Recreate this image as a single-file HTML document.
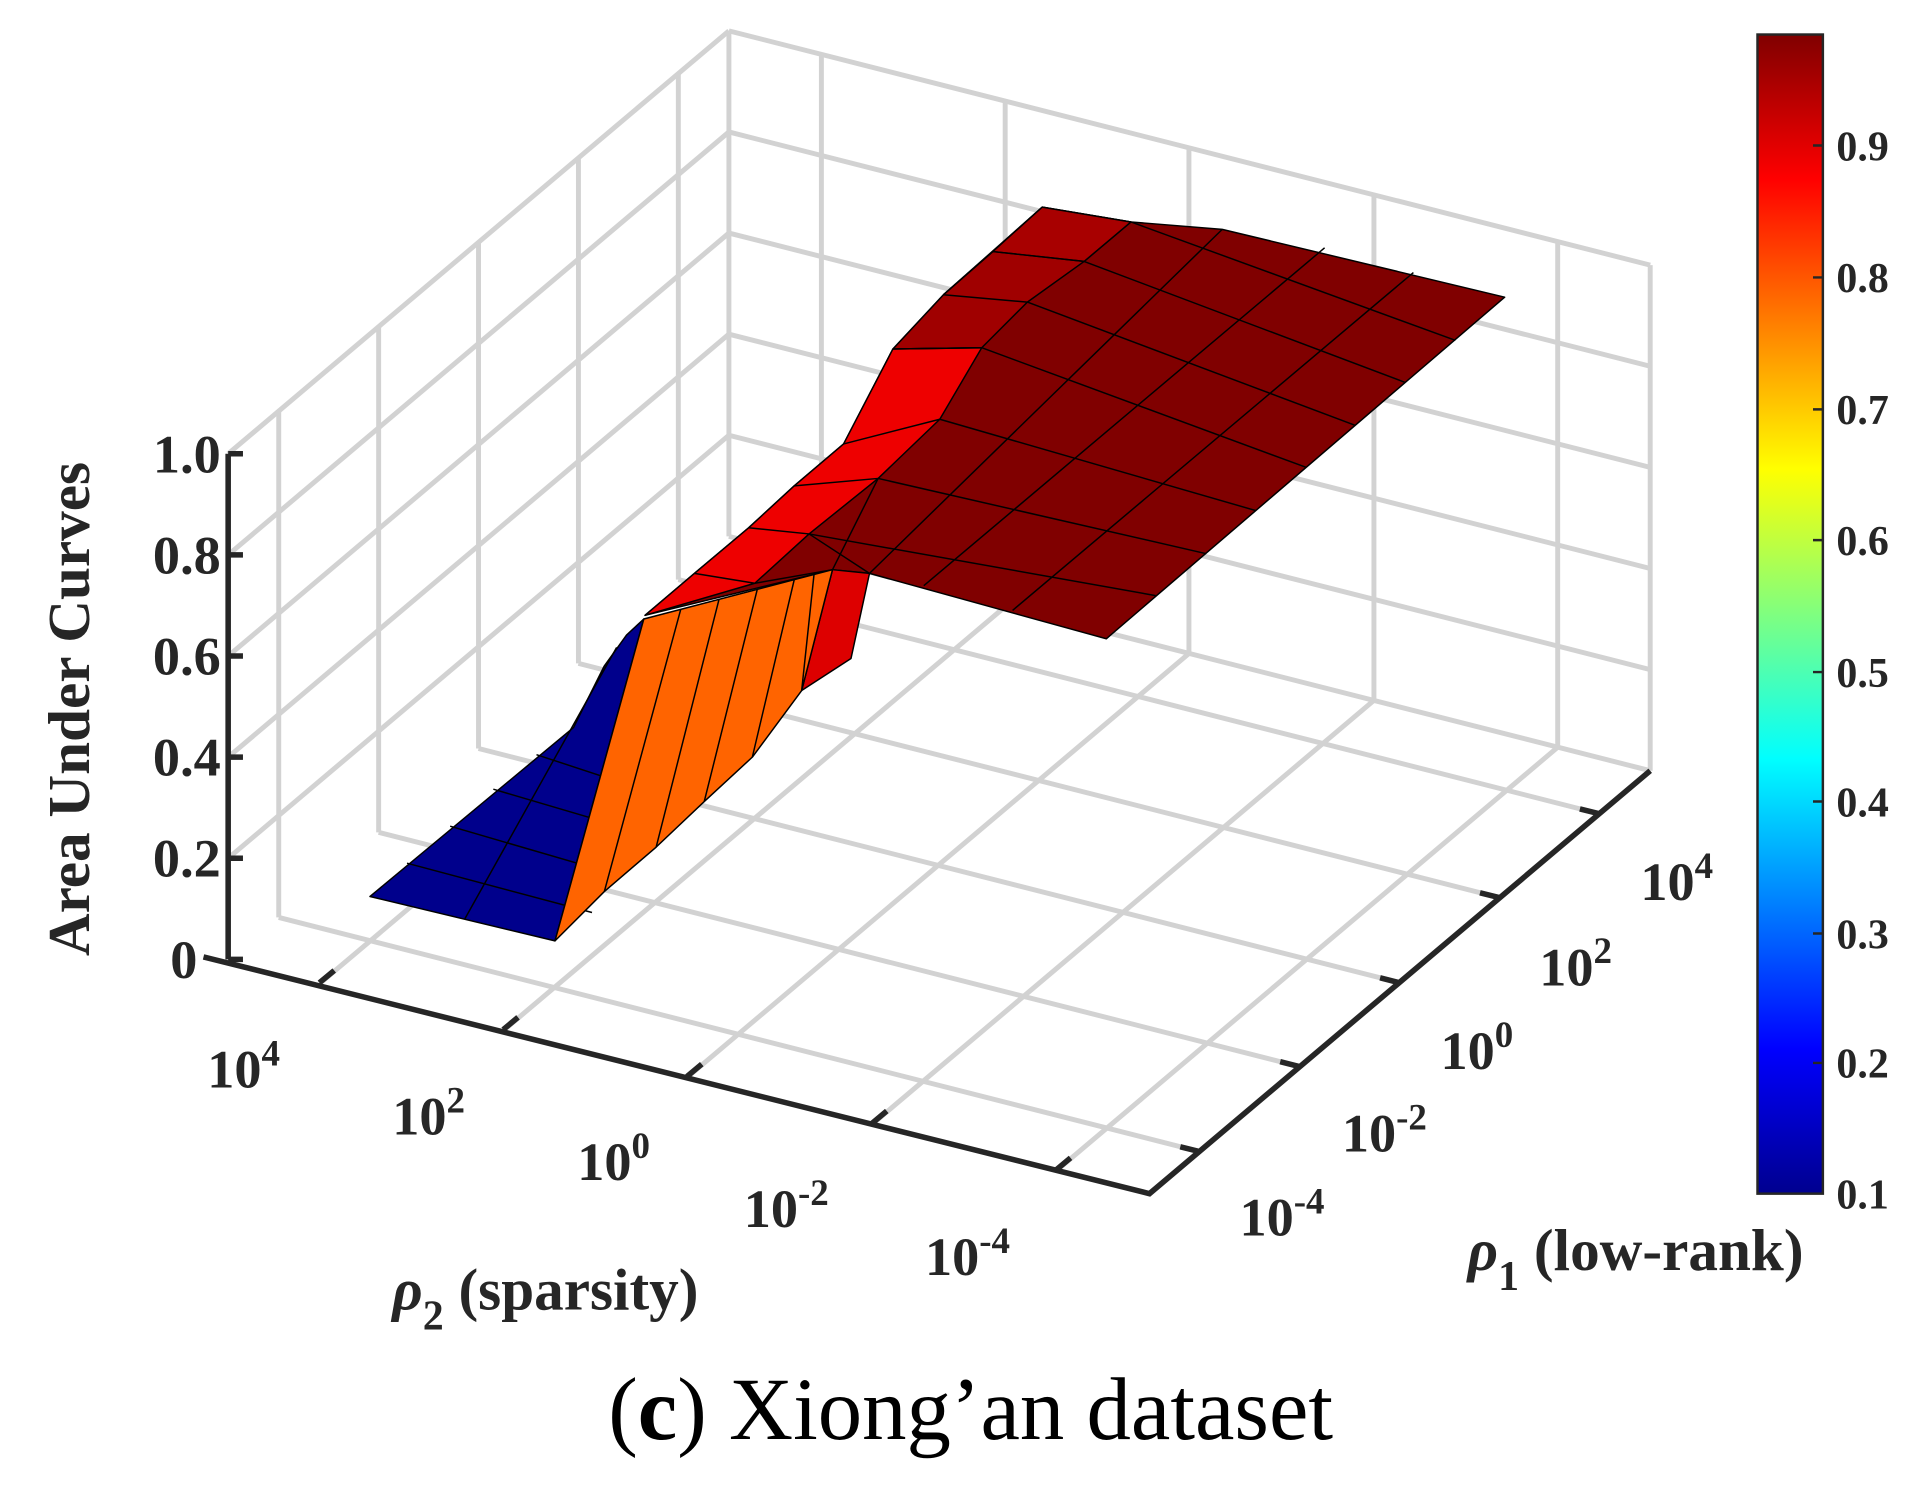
<!DOCTYPE html>
<html><head><meta charset="utf-8"><style>html,body{margin:0;padding:0;background:#fff}svg{display:block}</style></head>
<body>
<svg width="1924" height="1497" viewBox="0 0 1560 1214" preserveAspectRatio="none" xmlns="http://www.w3.org/2000/svg">
<defs>
<linearGradient id="jet" x1="0" y1="1" x2="0" y2="0">
<stop offset="0" stop-color="#00008f"/>
<stop offset="0.125" stop-color="#0000ff"/>
<stop offset="0.375" stop-color="#00ffff"/>
<stop offset="0.625" stop-color="#ffff00"/>
<stop offset="0.875" stop-color="#ff0000"/>
<stop offset="1" stop-color="#800000"/>
</linearGradient>
</defs>
<rect width="1560" height="1214" fill="#fff"/>
<g stroke="#d2d2d2" stroke-width="4" fill="none">
<!-- back-left wall -->
<path d="M185,696L591,353M185,614L591,271M185,532L591,189M185,450L591,107M185,368L591,25"/>
<path d="M226,744V334M307,675V265M388,607V197M469,538V128M550,470V60"/>
<path d="M591,435V25"/>
<!-- back-right wall -->
<path d="M591,353L1338,543M591,271L1338,461M591,189L1338,379M591,107L1338,297M591,25L1338,215"/>
<path d="M666,454V44M815,492V82M964,530V120M1114,568V158M1263,606V196M1338,625V215"/>
<!-- floor -->
<path d="M226,744L973,934M307,675L1054,865M388,607L1135,797M469,538L1216,728M550,470L1297,660M591,435L1338,625"/>
<path d="M260,797L666,454M409,835L815,492M558,873L964,530M708,911L1114,568M857,949L1263,606"/>
</g>
<!-- surface -->
<g stroke="#000" stroke-width="1.2" stroke-linejoin="round">
<polygon fill="#800000" points="523,499 675,462 705,465 897,518 1220,241 991,186 917,180 845,168 765,239 724,283 684,360 644,394 607,428 563,465"/>
<polygon fill="#a00000" points="724,283 765,239 805,204 845,168 917,180 879,212 833,245 796,282"/>
<polygon fill="#a80000" points="805,204 845,168 917,180 879,212"/>
<polygon fill="#ee0000" points="523,499 563,465 607,428 644,394 684,360 724,283 796,282 762,340 712,388 656,433 612,473"/>
<g fill="none">
<path d="M749,475L1074,201M821,495L1146,221M705,465L991,186M675,462L712,388"/>
<path d="M656,433L937,483M712,388L978,449M762,340L1018,414M796,282L1059,379M833,245L1099,345M879,212L1139,310M917,180L1180,276"/>
<path d="M765,239L805,204M724,283L796,282M765,239L833,245M805,204L879,212"/>
<path d="M563,465L612,473M607,428L656,433M644,394L712,388M684,360L762,340"/>
<path d="M612,473L675,462M656,433L705,465"/>
</g>
<polygon fill="#dd0000" points="675,462 705,465 690,534 650,560"/>
<polygon fill="#00008c" points="300,727 450,763 522,502 508,515 490,540 465,590"/>
<path fill="none" d="M377,745L500,525M330,700L480,740M365,670L485,705M400,640L495,668M435,612L505,635"/>
<polygon fill="#ff6400" points="450,763 522,502 675,462 650,560 610,614 571,650 532,687 490,723"/>
<path fill="none" d="M552,494L490,723M583,486L532,687M614,478L571,650M644,470L610,614M660,466L650,560"/>
</g>
<!-- axes -->
<g stroke="#262626" stroke-width="4.5" fill="none">
<path d="M185,368V778"/>
<path d="M185,368h12M185,450h12M185,532h12M185,614h12M185,696h12M185,778h12"/>
<path d="M165,776L932,968L1338,625"/>
<path d="M259,797l12,-10M408,835l12,-10M557,873l12,-10M707,911l12,-10M856,949l12,-10"/>
<path d="M973,934l-16,-4M1054,865l-16,-4M1135,797l-16,-4M1216,728l-16,-4M1297,660l-16,-4"/>
</g>
<g font-family="Liberation Serif, serif" font-weight="bold" font-size="44" fill="#262626">
<g text-anchor="end">
<text x="179" y="383">1.0</text><text x="179" y="465">0.8</text><text x="179" y="547">0.6</text>
<text x="179" y="629">0.4</text><text x="179" y="711">0.2</text><text x="160" y="793">0</text>
</g>
<text transform="translate(72,575) rotate(-90)" text-anchor="middle" font-size="48">Area Under Curves</text>
<text x="168" y="882">10<tspan font-size="30" dy="-18">4</tspan></text>
<text x="318" y="920">10<tspan font-size="30" dy="-18">2</tspan></text>
<text x="468" y="957">10<tspan font-size="30" dy="-18">0</tspan></text>
<text x="603" y="995">10<tspan font-size="30" dy="-18">-2</tspan></text>
<text x="750" y="1034">10<tspan font-size="30" dy="-18">-4</tspan></text>
<text x="1005" y="1002">10<tspan font-size="30" dy="-18">-4</tspan></text>
<text x="1088" y="934">10<tspan font-size="30" dy="-18">-2</tspan></text>
<text x="1168" y="867">10<tspan font-size="30" dy="-18">0</tspan></text>
<text x="1248" y="799">10<tspan font-size="30" dy="-18">2</tspan></text>
<text x="1330" y="730">10<tspan font-size="30" dy="-18">4</tspan></text>
<text x="318" y="1062" font-size="48"><tspan font-style="italic">ρ</tspan><tspan font-size="34" dy="16">2</tspan><tspan dy="-16"> (sparsity)</tspan></text>
<text x="1190" y="1030" font-size="48"><tspan font-style="italic">ρ</tspan><tspan font-size="34" dy="16">1</tspan><tspan dy="-16"> (low-rank)</tspan></text>
</g>
<!-- colorbar -->
<rect x="1425" y="28" width="53" height="940" fill="url(#jet)" stroke="#262626" stroke-width="2"/>
<g stroke="#262626" stroke-width="2">
<path d="M1478,118h-8M1478,225h-8M1478,332h-8M1478,438h-8M1478,545h-8M1478,650h-8M1478,757h-8M1478,862h-8"/>
</g>
<g font-family="Liberation Serif, serif" font-weight="bold" font-size="34" fill="#262626">
<text x="1489" y="130">0.9</text><text x="1489" y="237">0.8</text><text x="1489" y="344">0.7</text>
<text x="1489" y="450">0.6</text><text x="1489" y="557">0.5</text><text x="1489" y="662">0.4</text>
<text x="1489" y="769">0.3</text><text x="1489" y="874">0.2</text><text x="1489" y="980">0.1</text>
</g>
<text x="787" y="1167" text-anchor="middle" font-family="Liberation Serif, serif" font-size="72" fill="#000">(<tspan font-weight="bold">c</tspan>) Xiong’an dataset</text>
</svg>
</body></html>
